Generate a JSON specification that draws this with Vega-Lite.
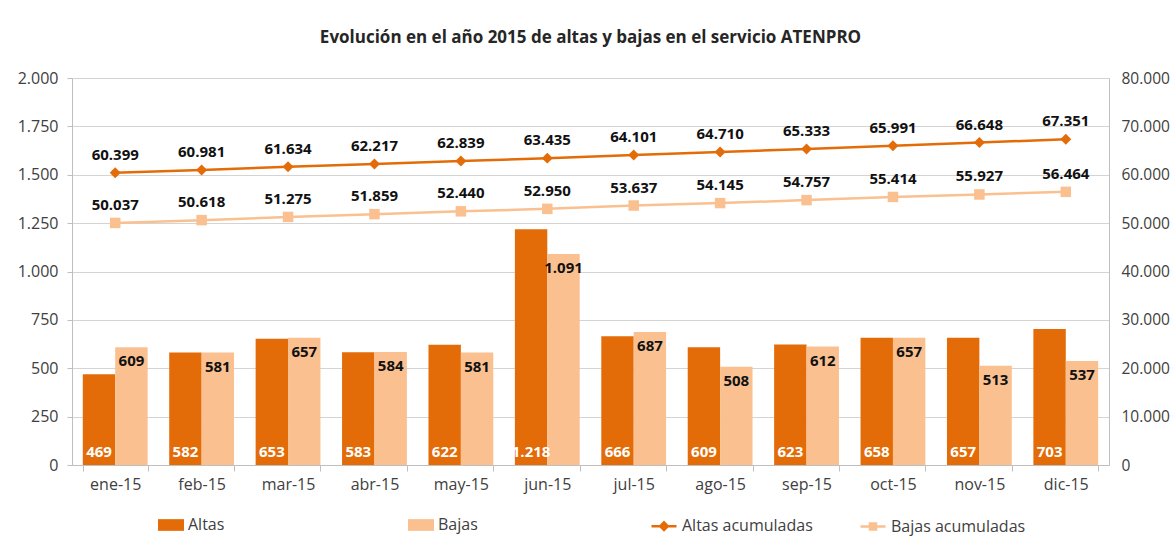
{
  "$schema": "https://vega.github.io/schema/vega-lite/v6.json",
  "width": 1037,
  "height": 387,
  "autosize": "none",
  "padding": {"left": 72, "top": 78, "right": 65, "bottom": 80},
  "background": "white",
  "title": {
    "text": "Evolución en el año 2015 de altas y bajas en el servicio ATENPRO",
    "anchor": "middle",
    "frame": "group",
    "offset": 23,
    "font": "Open Sans",
    "fontSize": 17,
    "fontWeight": "bold",
    "color": "#262626"
  },
  "config": {
    "locale": {"number": {"decimal": ",", "thousands": ".", "grouping": [3], "currency": ["", " €"]}},
    "font": "Open Sans",
    "view": {"stroke": null},
    "axis": {"labelFont": "Open Sans", "labelFontSize": 16, "labelColor": "#404040", "domainColor": "#bfbfbf", "tickColor": "#bfbfbf", "gridColor": "#d4d4d4"},
    "legend": {"labelFont": "Open Sans", "labelFontSize": 16, "labelColor": "#404040"}
  },
  "datasets": {
    "bars": [
      {"mes": "ene-15", "serie": "Altas", "valor": 469}, {"mes": "ene-15", "serie": "Bajas", "valor": 609},
      {"mes": "feb-15", "serie": "Altas", "valor": 582}, {"mes": "feb-15", "serie": "Bajas", "valor": 581},
      {"mes": "mar-15", "serie": "Altas", "valor": 653}, {"mes": "mar-15", "serie": "Bajas", "valor": 657},
      {"mes": "abr-15", "serie": "Altas", "valor": 583}, {"mes": "abr-15", "serie": "Bajas", "valor": 584},
      {"mes": "may-15", "serie": "Altas", "valor": 622}, {"mes": "may-15", "serie": "Bajas", "valor": 581},
      {"mes": "jun-15", "serie": "Altas", "valor": 1218}, {"mes": "jun-15", "serie": "Bajas", "valor": 1091},
      {"mes": "jul-15", "serie": "Altas", "valor": 666}, {"mes": "jul-15", "serie": "Bajas", "valor": 687},
      {"mes": "ago-15", "serie": "Altas", "valor": 609}, {"mes": "ago-15", "serie": "Bajas", "valor": 508},
      {"mes": "sep-15", "serie": "Altas", "valor": 623}, {"mes": "sep-15", "serie": "Bajas", "valor": 612},
      {"mes": "oct-15", "serie": "Altas", "valor": 658}, {"mes": "oct-15", "serie": "Bajas", "valor": 657},
      {"mes": "nov-15", "serie": "Altas", "valor": 657}, {"mes": "nov-15", "serie": "Bajas", "valor": 513},
      {"mes": "dic-15", "serie": "Altas", "valor": 703}, {"mes": "dic-15", "serie": "Bajas", "valor": 537}
    ],
    "acum": [
      {"mes": "ene-15", "serie": "Altas acumuladas", "valor": 60399}, {"mes": "ene-15", "serie": "Bajas acumuladas", "valor": 50037},
      {"mes": "feb-15", "serie": "Altas acumuladas", "valor": 60981}, {"mes": "feb-15", "serie": "Bajas acumuladas", "valor": 50618},
      {"mes": "mar-15", "serie": "Altas acumuladas", "valor": 61634}, {"mes": "mar-15", "serie": "Bajas acumuladas", "valor": 51275},
      {"mes": "abr-15", "serie": "Altas acumuladas", "valor": 62217}, {"mes": "abr-15", "serie": "Bajas acumuladas", "valor": 51859},
      {"mes": "may-15", "serie": "Altas acumuladas", "valor": 62839}, {"mes": "may-15", "serie": "Bajas acumuladas", "valor": 52440},
      {"mes": "jun-15", "serie": "Altas acumuladas", "valor": 63435}, {"mes": "jun-15", "serie": "Bajas acumuladas", "valor": 52950},
      {"mes": "jul-15", "serie": "Altas acumuladas", "valor": 64101}, {"mes": "jul-15", "serie": "Bajas acumuladas", "valor": 53637},
      {"mes": "ago-15", "serie": "Altas acumuladas", "valor": 64710}, {"mes": "ago-15", "serie": "Bajas acumuladas", "valor": 54145},
      {"mes": "sep-15", "serie": "Altas acumuladas", "valor": 65333}, {"mes": "sep-15", "serie": "Bajas acumuladas", "valor": 54757},
      {"mes": "oct-15", "serie": "Altas acumuladas", "valor": 65991}, {"mes": "oct-15", "serie": "Bajas acumuladas", "valor": 55414},
      {"mes": "nov-15", "serie": "Altas acumuladas", "valor": 66648}, {"mes": "nov-15", "serie": "Bajas acumuladas", "valor": 55927},
      {"mes": "dic-15", "serie": "Altas acumuladas", "valor": 67351}, {"mes": "dic-15", "serie": "Bajas acumuladas", "valor": 56464}
    ]
  },
  "resolve": {"scale": {"y": "independent"}, "axis": {"y": "independent"}},
  "layer": [
    {
      "data": {"name": "bars"},
      "layer": [
        {
          "mark": {"type": "bar"},
          "encoding": {
            "x": {"field": "mes", "type": "ordinal", "sort": null,
              "scale": {"domain": ["ene-15","feb-15","mar-15","abr-15","may-15","jun-15","jul-15","ago-15","sep-15","oct-15","nov-15","dic-15"], "paddingInner": 0.25, "paddingOuter": 0.125},
              "axis": {"title": null, "labelAngle": 0, "tickBand": "extent", "tickSize": 6, "labelPadding": 5, "domainColor": "#bfbfbf"}},
            "xOffset": {"field": "serie", "type": "nominal", "scale": {"domain": ["Altas", "Bajas"], "paddingInner": 0, "paddingOuter": 0}},
            "y": {"field": "valor", "type": "quantitative",
              "scale": {"domain": [0, 2000], "nice": false},
              "axis": {"title": null, "values": [0,250,500,750,1000,1250,1500,1750,2000], "format": ",d", "grid": true, "tickSize": 5, "labelPadding": 9}},
            "color": {"field": "serie", "type": "nominal",
              "scale": {"domain": ["Altas", "Bajas"], "range": ["#e36c09", "#fac090"]},
              "legend": {"title": null, "orient": "none", "direction": "horizontal", "columns": 2, "columnPadding": 183,
                "legendX": 86, "legendY": 434, "symbolType": "M-1,-0.45H1V0.45H-1Z", "symbolSize": 676, "symbolStrokeWidth": 0, "labelOffset": 4}}
          }
        },
        {
          "transform": [{"filter": "datum.serie === 'Altas'"}],
          "mark": {"type": "text", "baseline": "bottom", "dy": -5, "fontWeight": "bold", "fontSize": 15, "color": "white"},
          "encoding": {
            "x": {"field": "mes", "type": "ordinal", "sort": null},
            "xOffset": {"field": "serie", "type": "nominal", "scale": {"domain": ["Altas", "Bajas"]}},
            "y": {"datum": 0},
            "text": {"field": "valor", "type": "quantitative", "format": ",d"}
          }
        },
        {
          "transform": [{"filter": "datum.serie === 'Bajas'"}],
          "mark": {"type": "text", "baseline": "top", "dy": 7, "fontWeight": "bold", "fontSize": 15, "color": "#111111"},
          "encoding": {
            "x": {"field": "mes", "type": "ordinal", "sort": null},
            "xOffset": {"field": "serie", "type": "nominal", "scale": {"domain": ["Altas", "Bajas"]}},
            "y": {"field": "valor", "type": "quantitative"},
            "text": {"field": "valor", "type": "quantitative", "format": ",d"}
          }
        }
      ]
    },
    {
      "data": {"name": "acum"},
      "layer": [
        {
          "mark": {"type": "line", "strokeWidth": 2.5},
          "encoding": {
            "x": {"field": "mes", "type": "ordinal", "sort": null},
            "y": {"field": "valor", "type": "quantitative",
              "scale": {"domain": [0, 80000], "nice": false},
              "axis": {"title": null, "orient": "right", "values": [0,10000,20000,30000,40000,50000,60000,70000,80000], "format": ",d", "grid": false, "ticks": false, "labelPadding": 12, "labelFontSize": 15.5}},
            "stroke": {"field": "serie", "type": "nominal",
              "scale": {"domain": ["Altas acumuladas", "Bajas acumuladas"], "range": ["#e36c09", "#fac090"]},
              "legend": {"title": null, "orient": "none", "direction": "horizontal", "columns": 2, "columnPadding": 42,
                "legendX": 578, "legendY": 434, "symbolType": "M-1,0H1M0,-0.3L0.3,0L0,0.3L-0.3,0Z", "symbolSize": 625, "symbolStrokeWidth": 2.5, "labelOffset": 4,
                "encode": {"symbols": {"update": {
                  "shape": {"signal": "datum.value === 'Altas acumuladas' ? 'M-1,0H1M0,-0.3L0.3,0L0,0.3L-0.3,0Z' : 'M-1,0H1M-0.24,-0.24H0.24V0.24H-0.24Z'"},
                  "fill": {"signal": "datum.value === 'Altas acumuladas' ? '#e36c09' : '#fac090'"}
                }}}}}
          }
        },
        {
          "transform": [{"filter": "datum.serie === 'Altas acumuladas'"}],
          "mark": {"type": "point", "filled": true, "shape": "diamond", "size": 120, "opacity": 1, "strokeWidth": 0, "color": "#e36c09"},
          "encoding": {
            "x": {"field": "mes", "type": "ordinal", "sort": null},
            "y": {"field": "valor", "type": "quantitative"}
          }
        },
        {
          "transform": [{"filter": "datum.serie === 'Bajas acumuladas'"}],
          "mark": {"type": "point", "filled": true, "shape": "square", "size": 110, "opacity": 1, "strokeWidth": 0, "color": "#fac090"},
          "encoding": {
            "x": {"field": "mes", "type": "ordinal", "sort": null},
            "y": {"field": "valor", "type": "quantitative"}
          }
        },
        {
          "mark": {"type": "text", "baseline": "bottom", "dy": -10, "fontWeight": "bold", "fontSize": 15, "color": "#111111"},
          "encoding": {
            "x": {"field": "mes", "type": "ordinal", "sort": null},
            "y": {"field": "valor", "type": "quantitative"},
            "text": {"field": "valor", "type": "quantitative", "format": ",d"}
          }
        }
      ]
    }
  ]
}
